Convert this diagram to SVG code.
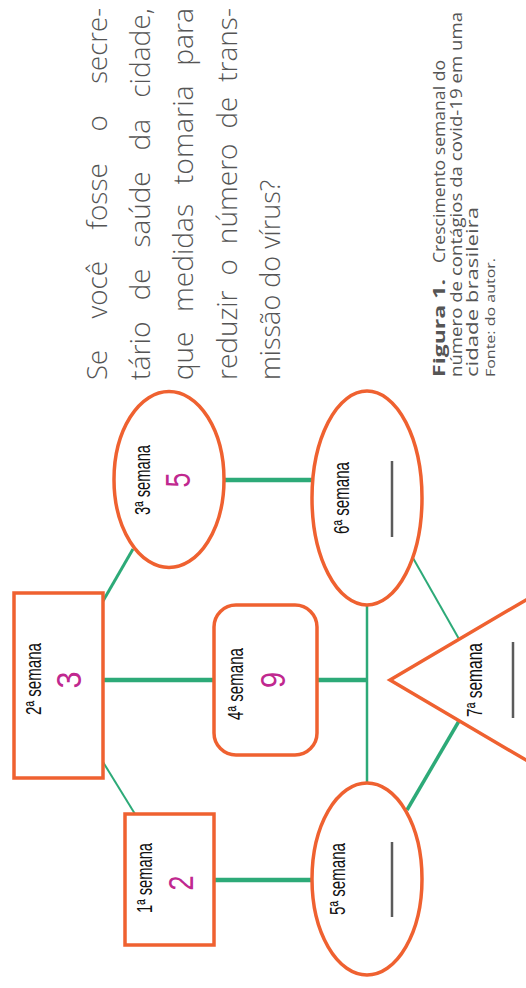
<svg xmlns="http://www.w3.org/2000/svg" width="526" height="988" viewBox="0 0 526 988">
<style>
.shape{fill:#fff;stroke:#ef6130;stroke-width:3.5}
.lbl{font-family:"Liberation Sans",Arial,sans-serif;font-size:22px;fill:#111;text-anchor:middle}
.num{font-family:"Liberation Sans",Arial,sans-serif;font-size:35px;fill:#c0288f;text-anchor:middle}
.blank{stroke:#5b5b5b;stroke-width:2.5}
.c{stroke:#2daa78;fill:none}
.q{font-family:"Open Sans","DejaVu Sans",sans-serif;font-size:27px;font-weight:300;fill:#555}
.cap{font-family:"Open Sans","DejaVu Sans",sans-serif;font-size:15.5px;fill:#555}
</style>
<rect width="526" height="988" fill="#fff"/>
<g id="connectors">
<line class="c" x1="214" y1="880" x2="312" y2="880" stroke-width="4.5"/>
<line class="c" x1="103" y1="762" x2="135" y2="814" stroke-width="2"/>
<line class="c" x1="103" y1="680" x2="214" y2="680" stroke-width="4.5"/>
<line class="c" x1="103" y1="601" x2="133" y2="549" stroke-width="3"/>
<line class="c" x1="224" y1="480" x2="312" y2="480" stroke-width="4.5"/>
<line class="c" x1="317" y1="680" x2="367" y2="680" stroke-width="4.5"/>
<line class="c" x1="367" y1="605" x2="367" y2="783" stroke-width="2.5"/>
<line class="c" x1="413" y1="558" x2="459" y2="639" stroke-width="2"/>
<line class="c" x1="459" y1="721" x2="407" y2="810" stroke-width="3.5"/>
</g>
<g id="node1">
<rect class="shape" x="125" y="814" width="89" height="131" stroke-width="4"/>
<text class="lbl" transform="translate(152,878) rotate(-90)" textLength="70" lengthAdjust="spacingAndGlyphs">1ª semana</text>
<text class="num" transform="translate(193,883) rotate(-90)" textLength="15" lengthAdjust="spacingAndGlyphs">2</text>
</g>
<g id="node2">
<rect class="shape" x="14" y="593" width="89" height="185" stroke-width="3"/>
<text class="lbl" transform="translate(41,679) rotate(-90)" textLength="72" lengthAdjust="spacingAndGlyphs">2ª semana</text>
<text class="num" transform="translate(81,680) rotate(-90)" textLength="17" lengthAdjust="spacingAndGlyphs">3</text>
</g>
<g id="node3">
<ellipse class="shape" cx="169" cy="479.5" rx="55" ry="88" stroke-width="2.7"/>
<text class="lbl" transform="translate(150,480) rotate(-90)" textLength="70" lengthAdjust="spacingAndGlyphs">3ª semana</text>
<text class="num" transform="translate(190,480) rotate(-90)" textLength="15" lengthAdjust="spacingAndGlyphs">5</text>
</g>
<g id="node4">
<rect class="shape" x="214" y="605" width="103" height="150" rx="22"/>
<text class="lbl" transform="translate(243,684) rotate(-90)" textLength="72" lengthAdjust="spacingAndGlyphs">4ª semana</text>
<text class="num" transform="translate(285,680) rotate(-90)" textLength="16" lengthAdjust="spacingAndGlyphs">9</text>
</g>
<g id="node5">
<ellipse class="shape" cx="367" cy="879" rx="55" ry="96"/>
<text class="lbl" transform="translate(345,879) rotate(-90)" textLength="72" lengthAdjust="spacingAndGlyphs">5ª semana</text>
<line class="blank" x1="392" y1="842" x2="392" y2="917"/>
</g>
<g id="node6">
<ellipse class="shape" cx="367" cy="498" rx="55" ry="107"/>
<text class="lbl" transform="translate(349,498) rotate(-90)" textLength="72" lengthAdjust="spacingAndGlyphs">6ª semana</text>
<line class="blank" x1="392" y1="461" x2="392" y2="537"/>
</g>
<g id="node7">
<polyline class="shape" points="570,574 390,680 570,786"/>
<text class="lbl" transform="translate(482,680) rotate(-90)" textLength="74" lengthAdjust="spacingAndGlyphs">7ª semana</text>
<line class="blank" x1="513" y1="642" x2="513" y2="718"/>
</g>
<g id="question" transform="rotate(-90)" class="q">
<text x="-380" y="107" textLength="30" lengthAdjust="spacingAndGlyphs">Se</text>
<text x="-318.6" y="107" textLength="57.6" lengthAdjust="spacingAndGlyphs">você</text>
<text x="-229.5" y="107" textLength="66.4" lengthAdjust="spacingAndGlyphs">fosse</text>
<text x="-131.6" y="107" textLength="16.3" lengthAdjust="spacingAndGlyphs">o</text>
<text x="-83.8" y="107" textLength="75.8" lengthAdjust="spacingAndGlyphs">secre-</text>
<text x="-380" y="150" textLength="58.7" lengthAdjust="spacingAndGlyphs">tário</text>
<text x="-300.3" y="150" textLength="31.7" lengthAdjust="spacingAndGlyphs">de</text>
<text x="-247.6" y="150" textLength="76.2" lengthAdjust="spacingAndGlyphs">saúde</text>
<text x="-150.4" y="150" textLength="31.6" lengthAdjust="spacingAndGlyphs">da</text>
<text x="-97.8" y="150" textLength="89.6" lengthAdjust="spacingAndGlyphs">cidade,</text>
<text x="-380" y="193" textLength="48.3" lengthAdjust="spacingAndGlyphs">que</text>
<text x="-312" y="193" textLength="108.1" lengthAdjust="spacingAndGlyphs">medidas</text>
<text x="-184.2" y="193" textLength="98.8" lengthAdjust="spacingAndGlyphs">tomaria</text>
<text x="-65.7" y="193" textLength="57.6" lengthAdjust="spacingAndGlyphs">para</text>
<text x="-380" y="237" textLength="89.5" lengthAdjust="spacingAndGlyphs">reduzir</text>
<text x="-275.5" y="237" textLength="16.3" lengthAdjust="spacingAndGlyphs">o</text>
<text x="-244.2" y="237" textLength="100.7" lengthAdjust="spacingAndGlyphs">número</text>
<text x="-128.5" y="237" textLength="31.7" lengthAdjust="spacingAndGlyphs">de</text>
<text x="-81.8" y="237" textLength="73.7" lengthAdjust="spacingAndGlyphs">trans-</text>
<text x="-380" y="280">missão do vírus?</text>
</g>
<g id="caption" transform="rotate(-90)" class="cap">
<text x="-377" y="445" font-weight="bold" textLength="98" lengthAdjust="spacingAndGlyphs">Figura 1.</text>
<text x="-263" y="445" textLength="203" lengthAdjust="spacingAndGlyphs">Crescimento semanal do</text>
<text x="-377" y="462" textLength="365" lengthAdjust="spacingAndGlyphs">número de contágios da covid-19 em uma</text>
<text x="-377" y="478" textLength="170" lengthAdjust="spacingAndGlyphs">cidade brasileira</text>
<text x="-377" y="495" font-size="12" textLength="119" lengthAdjust="spacingAndGlyphs">Fonte: do autor.</text>
</g>
</svg>
